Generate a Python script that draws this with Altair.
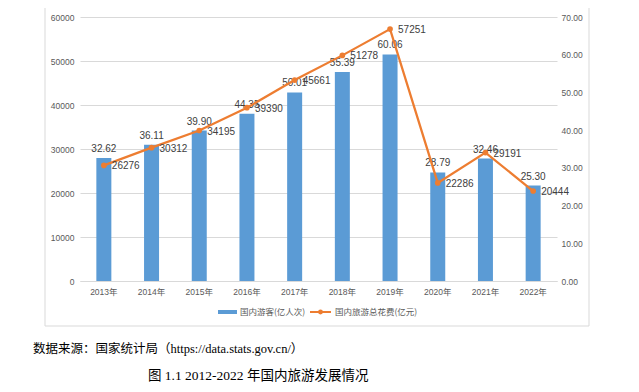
import altair as alt
import pandas as pd

years = ["2013年", "2014年", "2015年", "2016年", "2017年", "2018年", "2019年", "2020年", "2021年", "2022年"]
tourists = [32.62, 36.11, 39.90, 44.35, 50.01, 55.39, 60.06, 28.79, 32.46, 25.30]
spending = [26276, 30312, 34195, 39390, 45661, 51278, 57251, 22286, 29191, 20444]
series_names = ["国内游客(亿人次)", "国内旅游总花费(亿元)"]
source_text = "数据来源：国家统计局（https://data.stats.gov.cn/）"
caption_text = "图 1.1 2012-2022 年国内旅游发展情况"

df = pd.DataFrame({"year": years, "tourists": tourists, "spending": spending})
df["tourists_lbl"] = [f"{v:.2f}" for v in tourists]
df["spending_lbl"] = [str(v) for v in spending]

BLUE = "#5B9BD5"
ORANGE = "#ED7D31"
LBL = "#404040"
AX = "#595959"
GRID = "#d9d9d9"
SANS = "Liberation Sans, Noto Sans CJK SC"
CJK = "Noto Sans CJK SC"
SERIF = "Liberation Serif, Noto Sans CJK SC"

W, H = 477, 264

xenc = alt.X("year:N", sort=years, title=None,
             scale=alt.Scale(paddingInner=0, paddingOuter=0),
             axis=alt.Axis(labelAngle=0, ticks=False, domainColor=GRID, labelColor=AX,
                           labelFont=SANS, labelFontSize=8.5, labelPadding=6, grid=False))

ybar = alt.Y("tourists:Q", title=None,
             scale=alt.Scale(domain=[0, 70], nice=False, zero=True),
             axis=alt.Axis(orient="right", values=list(range(0, 71, 10)), format=".2f",
                           grid=False, ticks=False, domain=False, labelColor=AX,
                           labelFont=SANS, labelFontSize=8.5, labelPadding=4))

yline = alt.Y("spending:Q", title=None,
              scale=alt.Scale(domain=[0, 60000], nice=False, zero=True),
              axis=alt.Axis(orient="left", values=list(range(0, 60001, 10000)), format="d",
                            grid=True, gridColor=GRID, gridWidth=1, ticks=False, domain=False,
                            labelColor=AX, labelFont=SANS, labelFontSize=8.5, labelPadding=6))

base = alt.Chart(df)

bars = base.mark_bar(color=BLUE, size=15).encode(x=xenc, y=ybar)
bar_text = base.mark_text(font=SANS, fontSize=10, color=LBL, baseline="alphabetic", dy=-6).encode(
    x=alt.X("year:N", sort=years), y=ybar, text="tourists_lbl:N")
bar_layer = alt.layer(bars, bar_text)

line = base.mark_line(color=ORANGE, strokeWidth=2.25).encode(x=alt.X("year:N", sort=years), y=yline)
pts = base.mark_circle(color=ORANGE, size=32, opacity=1).encode(x=alt.X("year:N", sort=years), y=yline)
line_text = base.mark_text(font=SANS, fontSize=10, color=LBL, align="left", baseline="middle", dx=8, dy=1).encode(
    x=alt.X("year:N", sort=years), y=yline, text="spending_lbl:N")
line_layer = alt.layer(line, pts, line_text)

one = alt.Chart(pd.DataFrame({"a": [0]}))

frame = one.mark_rect(filled=False, color=GRID, strokeWidth=1, fillOpacity=0, strokeOpacity=1).encode(
    x=alt.value(-35), x2=alt.value(509), y=alt.value(-11), y2=alt.value(309))

leg_rect = one.mark_rect(color=BLUE).encode(
    x=alt.value(138), x2=alt.value(157), y=alt.value(293), y2=alt.value(297))
leg_t1 = one.mark_text(font=CJK, fontSize=8.5, color=AX, align="left", baseline="middle").encode(
    x=alt.value(160), y=alt.value(294.5), text=alt.value(series_names[0]))
leg_line = one.mark_rule(color=ORANGE, strokeWidth=2).encode(
    x=alt.value(230), x2=alt.value(251), y=alt.value(295))
leg_pt = one.mark_circle(color=ORANGE, size=24, opacity=1).encode(
    x=alt.value(240.5), y=alt.value(295))
leg_t2 = one.mark_text(font=CJK, fontSize=8.5, color=AX, align="left", baseline="middle").encode(
    x=alt.value(255), y=alt.value(294.5), text=alt.value(series_names[1]))

src = one.mark_text(font=SERIF, fontSize=12.5, color="#000000", align="left", baseline="middle").encode(
    x=alt.value(-47), y=alt.value(332), text=alt.value(source_text))
cap = one.mark_text(font=SERIF, fontSize=13.5, color="#000000", align="left", baseline="middle").encode(
    x=alt.value(68), y=alt.value(359), text=alt.value(caption_text))

chart = alt.layer(
    frame, bar_layer, line_layer, leg_rect, leg_t1, leg_line, leg_pt, leg_t2, src, cap
).resolve_scale(y="independent").properties(
    width=W, height=H,
    autosize=alt.AutoSizeParams(type="none"),
    padding={"left": 72, "top": 9, "right": 623 - 72 - W, "bottom": 376 - 9 - H},
    background="white",
).configure_view(stroke=None)

chart.save("out.html", embed_options={"renderer": "svg", "actions": False})
